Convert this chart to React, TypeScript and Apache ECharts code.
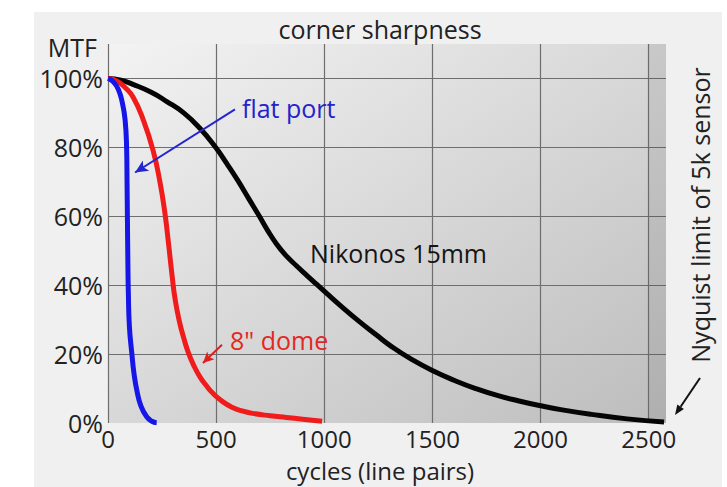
import React, { useEffect, useRef } from "react";
import * as echarts from "echarts";

// cycles (line pairs) vs MTF (%)
const flatPort: number[][] = [
  [0, 100], [25, 99], [48, 96.8], [66, 93], [79, 88], [86, 80], [88, 70], [90, 58],
  [92, 46], [94, 38], [99, 28], [110, 20.3], [121, 14], [133, 9.6], [152, 5],
  [179, 1.8], [203, 0.5], [225, 0.1],
];

const dome8: number[][] = [
  [0, 100], [40, 99.3], [80, 97.3], [117, 94.5], [163, 88], [209, 79], [240, 70],
  [263, 61], [280, 52], [295, 43.5], [310, 36], [330, 29.5], [350, 24.7], [371, 20.5],
  [398, 16.5], [425, 13.4], [455, 10.8], [484, 8.7], [530, 6.2], [576, 4.5], [620, 3.5],
  [668, 2.8], [750, 2.1], [825, 1.6], [900, 1.1], [990, 0.5],
];

const nikonos15: number[][] = [
  [0, 100], [60, 99.5], [115, 98.3], [200, 96], [272, 93.3], [350, 90], [424, 85.6],
  [500, 79.8], [548, 75.4], [600, 70.4], [650, 65.2], [700, 60], [740, 55.7], [780, 51.9],
  [820, 48.8], [870, 45.7], [920, 42.8], [964, 40.3], [1010, 37.7], [1080, 33.8],
  [1161, 29.5], [1240, 25.6], [1313, 22.1], [1400, 18.6], [1507, 15], [1600, 12.4],
  [1700, 10], [1800, 8], [1900, 6.4], [2000, 5], [2100, 3.8], [2235, 2.5], [2400, 1.2],
  [2571, 0.3],
];

const nyquistLimit = 2500;
const xMax = 2580;
const yMax = 110;

export default function App() {
  const ref = useRef<HTMLDivElement>(null);

  useEffect(() => {
    const chart = echarts.init(ref.current!, null, { renderer: "svg" });
    const font = "Open Sans";
    const axisText = { color: "#222", fontSize: 25, fontFamily: font };
    const gridLine = { color: "#6e6e6e", width: 1.2 };

    chart.setOption({
      animation: false,
      backgroundColor: "#ffffff",
      textStyle: { fontFamily: font },
      title: {
        text: "corner sharpness",
        left: 380,
        top: 16,
        textAlign: "center",
        padding: 0,
        textStyle: { ...axisText, fontWeight: "normal" },
      },
      grid: {
        left: 108,
        right: 61,
        top: 44,
        bottom: 64,
        show: true,
        borderWidth: 0,
        outerBoundsMode: "none",
        backgroundColor: new echarts.graphic.LinearGradient(0, 0, 1, 1, [
          { offset: 0, color: "#f3f3f3" },
          { offset: 1, color: "#bdbdbd" },
        ]),
      },
      xAxis: {
        type: "value",
        min: 0,
        max: xMax,
        interval: 500,
        name: "cycles (line pairs)",
        nameLocation: "middle",
        nameGap: 36,
        nameTextStyle: { ...axisText, fontSize: 24, lineHeight: 22, padding: [0, 14, 0, 0] },
        axisLine: { show: false },
        axisTick: { show: false },
        axisLabel: {
          ...axisText,
          fontSize: 24,
          lineHeight: 22,
          margin: 4,
          showMaxLabel: false,
          formatter: (v: number) => String(v),
        },
        splitLine: { show: true, showMaxLine: false, lineStyle: gridLine },
      },
      yAxis: {
        type: "value",
        min: 0,
        max: yMax,
        interval: 20,
        name: "MTF",
        nameLocation: "end",
        nameGap: -3,
        nameTextStyle: {
          ...axisText,
          align: "right",
          verticalAlign: "middle",
          padding: [0, 11, 0, 0],
        },
        axisLine: { show: false },
        axisTick: { show: false },
        axisLabel: { ...axisText, margin: 5, formatter: "{value}%", showMaxLabel: false },
        splitLine: { show: true, showMinLine: false, showMaxLine: false, lineStyle: gridLine },
      },
      series: [
        {
          name: "Nikonos 15mm",
          type: "line",
          data: nikonos15,
          smooth: 0.5,
          symbol: "none",
          lineStyle: { color: "#050505", width: 5 },
          z: 3,
          markArea: {
            silent: true,
            itemStyle: { color: "rgba(0,0,0,0.07)" },
            data: [[{ xAxis: nyquistLimit }, { xAxis: xMax }]],
          },
        },
        {
          name: '8" dome',
          type: "line",
          data: dome8,
          smooth: 0.5,
          symbol: "none",
          lineStyle: { color: "#f01c1c", width: 5 },
          z: 4,
          markLine: {
            silent: true,
            symbol: ["none", "arrow"],
            symbolSize: [8, 11],
            label: { show: false },
            lineStyle: { color: "#e01e1e", width: 2, type: "solid" },
            data: [[{ coord: [527, 22.7] }, { coord: [439, 17.4] }]],
          },
        },
        {
          name: "flat port",
          type: "line",
          data: flatPort,
          smooth: 0.5,
          symbol: "none",
          lineStyle: { color: "#1616e8", width: 5 },
          z: 5,
          markLine: {
            silent: true,
            symbol: ["none", "arrow"],
            symbolSize: [9, 13],
            label: { show: false },
            lineStyle: { color: "#2525d0", width: 2, type: "solid" },
            data: [[{ coord: [587, 91] }, { coord: [125, 72.7] }]],
          },
        },
      ],
      graphic: [
        {
          type: "rect",
          z: -100,
          silent: true,
          shape: { x: 34, y: 12, width: 688, height: 475 },
          style: { fill: "#f0f0f0" },
        },
        {
          type: "text",
          z: 10,
          x: 242,
          y: 108,
          style: { text: "flat port", fill: "#2323cc", fontSize: 25, fontFamily: font, verticalAlign: "middle" },
        },
        {
          type: "text",
          z: 10,
          x: 310,
          y: 253,
          style: { text: "Nikonos 15mm", fill: "#151515", fontSize: 25, fontFamily: font, verticalAlign: "middle" },
        },
        {
          type: "text",
          z: 10,
          x: 230,
          y: 340,
          style: { text: '8" dome', fill: "#e42626", fontSize: 25, fontFamily: font, verticalAlign: "middle" },
        },
        {
          type: "text",
          z: 10,
          x: 700,
          y: 215,
          rotation: Math.PI / 2,
          style: {
            text: "Nyquist limit of 5k sensor",
            fill: "#222",
            fontSize: 25,
            fontFamily: font,
            align: "center",
            verticalAlign: "middle",
          },
        },
        {
          type: "line",
          z: 10,
          shape: { x1: 700, y1: 378, x2: 680.6, y2: 406.7 },
          style: { stroke: "#111", lineWidth: 2 },
        },
        {
          type: "polygon",
          z: 10,
          shape: { points: [[675, 415], [683.9, 408.9], [677.3, 404.5]] },
          style: { fill: "#111" },
        },
      ],
    });

    return () => chart.dispose();
  }, []);

  return (
    <div
      ref={ref}
      style={{ position: "fixed", left: 0, top: 0, width: 727, height: 487 }}
    />
  );
}
